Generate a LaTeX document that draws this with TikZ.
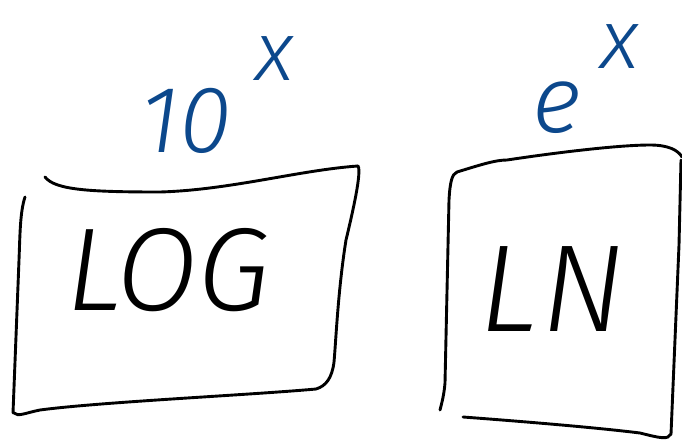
\documentclass[tikz,border=0pt]{standalone}
\usepackage{fontspec}
\newfontfamily\hand{Fira Sans Light Italic}
\definecolor{inkblue}{RGB}{12,72,140}
\begin{document}
\begin{tikzpicture}[x=1pt,y=-1pt,
  stroke/.style={line width=2.9pt, line cap=round, line join=round, black},
  boxlabel/.style={inner sep=0pt, font=\hand\fontsize{118}{118}\selectfont, text=black},
  powlabel/.style={inner sep=0pt, font=\hand\fontsize{95}{95}\selectfont, text=inkblue},
  expo/.style={}]
\useasboundingbox (0,0) rectangle (682,442);
% LOG box
\draw[stroke] (45,177) .. controls (55,190) and (90,192) .. (160,192) .. controls (230,190) and (300,170) .. (358,166);
\draw[stroke] (358,166) .. controls (362,172) and (352,215) .. (346,240) .. controls (338,290) and (336,340) .. (334,362) .. controls (332,378) and (326,386) .. (316,389) .. controls (250,395) and (100,402) .. (40,410) .. controls (25,413) and (18,417) .. (14,413);
\draw[stroke] (25,197) .. controls (20,212) and (20,235) .. (19,260) -- (13,413);
% LN box
\draw[stroke] (457,172) .. controls (480,165) and (495,160) .. (507,160) .. controls (560,152) and (620,145) .. (650,145) .. controls (668,145) and (678,150) .. (682,157);
\draw[stroke] (457,172) .. controls (452,174) and (450,182) .. (449,200) -- (445,383) .. controls (444,395) and (442,402) .. (440,410);
\draw[stroke] (463,417) .. controls (530,422) and (600,428) .. (640,433) .. controls (660,438) and (668,440) .. (671,434) -- (679,245) -- (681,160);
% labels
\node[boxlabel, anchor=base] (log) at (168,310) {LOG};
\node[boxlabel, anchor=base, font=\hand\fontsize{124}{124}\selectfont] (ln) at (552,331) {L\kern4pt N};
\node[powlabel, anchor=base west] (ten) at (140,152) {10\hspace{24pt}\raisebox{72pt}{\fontsize{84}{84}\selectfont x}};
\node[powlabel, anchor=base west] (ex) at (532,132) {e\hspace{20pt}\raisebox{64pt}{\fontsize{84}{84}\selectfont x}};
\end{tikzpicture}
\end{document}
